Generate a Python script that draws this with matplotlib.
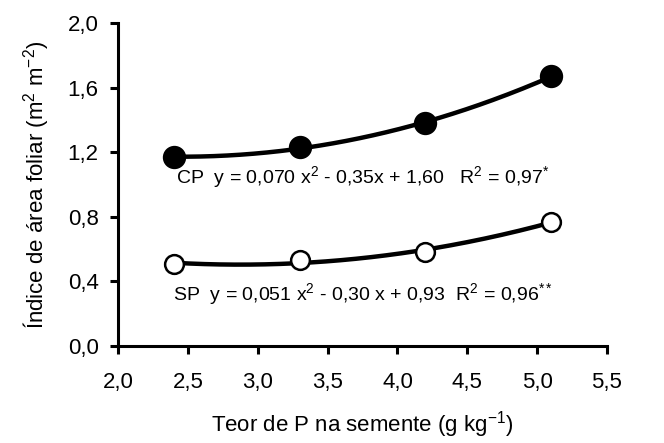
import numpy as np
import matplotlib
matplotlib.use('Agg')
import matplotlib.pyplot as plt
from matplotlib.ticker import FuncFormatter

plt.rcParams['font.family'] = ['Liberation Sans', 'DejaVu Sans']
plt.rcParams['mathtext.fontset'] = 'custom'
plt.rcParams['mathtext.rm'] = 'Liberation Sans'
plt.rcParams['mathtext.it'] = 'Liberation Sans'
plt.rcParams['mathtext.default'] = 'regular'

# teor de P (g/kg) e IAF
teor_p = [2.4, 3.3, 4.2, 5.1]
iaf_cp = [1.17, 1.23, 1.38, 1.67]
iaf_sp = [0.51, 0.53, 0.58, 0.77]

eq_cp = r'CP  y = 0,070 x$^{2}$ - 0,35x + 1,60   R$^{2}$ = 0,97$^{*}$'
eq_sp = r'SP  y = 0,051 x$^{2}$ - 0,30 x + 0,93  R$^{2}$ = 0,96$^{**}$'

fig = plt.figure(figsize=(6.64, 4.43), dpi=100)
ax = fig.add_axes([0.178, 0.219, 0.736, 0.729])

xs = np.linspace(min(teor_p), max(teor_p), 200)
for vals, face in [(iaf_cp, 'black'), (iaf_sp, 'white')]:
    c = np.polyfit(teor_p, vals, 2)
    ax.plot(xs, np.polyval(c, xs), color='black', lw=3.2, zorder=2)
    ax.plot(teor_p, vals, 'o', ms=15 if face == 'black' else 13.5,
            mfc=face, mec='black', mew=1.8, zorder=3)

ax.text(2.415, 1.009, eq_cp, fontsize=14, va='baseline', ha='left')
ax.text(2.392, 0.285, eq_sp, fontsize=14, va='baseline', ha='left')

ax.set_xlim(2.0, 5.5)
ax.set_ylim(0.0, 2.0)
ax.set_xticks(np.arange(2.0, 5.51, 0.5))
ax.set_yticks(np.arange(0.0, 2.01, 0.4))
fmt = FuncFormatter(lambda v, p: f'{v:.1f}'.replace('.', ','))
ax.xaxis.set_major_formatter(fmt)
ax.yaxis.set_major_formatter(fmt)

for s in ['top', 'right']:
    ax.spines[s].set_visible(False)
for s in ['left', 'bottom']:
    ax.spines[s].set_linewidth(2.2)
ax.tick_params(direction='out', width=2.2, length=6, labelsize=16)
ax.tick_params(axis='x', pad=13)
ax.tick_params(axis='y', pad=8)

ax.set_xlabel(r'Teor de P na semente (g kg$^{-1}$)', fontsize=16, labelpad=11)
ax.set_ylabel(r'Índice de área foliar (m$^{2}$ m$^{-2}$)', fontsize=16, labelpad=12)

fig.savefig('out.png', dpi=100)
